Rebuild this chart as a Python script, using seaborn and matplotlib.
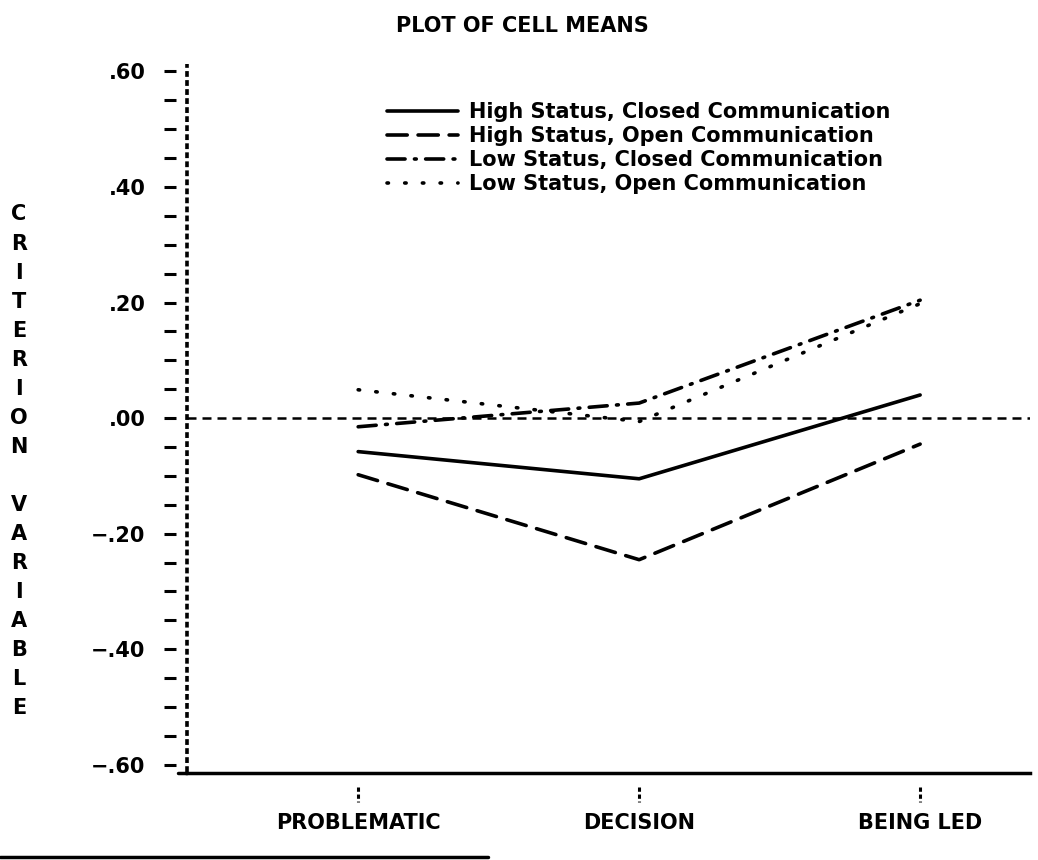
import numpy as np
import pandas as pd
import matplotlib
matplotlib.use("Agg")
import matplotlib.pyplot as plt
import matplotlib.transforms as mtransforms
import seaborn as sns

# ---------------- data ----------------
categories = ["PROBLEMATIC", "DECISION", "BEING LED"]
series_labels = [
    "High Status, Closed Communication",
    "High Status, Open Communication",
    "Low Status, Closed Communication",
    "Low Status, Open Communication",
]
high_closed = [-0.058, -0.105, 0.040]
high_open = [-0.098, -0.245, -0.045]
low_closed = [-0.015, 0.026, 0.204]
low_open = [0.049, -0.006, 0.198]

y_minor_ticks = [-0.60, -0.55, -0.50, -0.45, -0.40, -0.35, -0.30, -0.25, -0.20, -0.15,
                 -0.10, -0.05, 0.00, 0.05, 0.10, 0.15, 0.20, 0.25, 0.30, 0.35, 0.40,
                 0.45, 0.50, 0.55, 0.60]
y_label_ticks = [-0.60, -0.40, -0.20, 0.00, 0.20, 0.40, 0.60]
y_label_texts = ["\u2212.60", "\u2212.40", "\u2212.20", ".00", ".20", ".40", ".60"]
title_text = "PLOT OF CELL MEANS"
y_axis_text = "CRITERION VARIABLE"

# ---------------- style ----------------
sns.set_theme(style="white")
plt.rcParams["font.family"] = ["DejaVu Sans"]
plt.rcParams["font.weight"] = "bold"
for key in ["text.color", "axes.labelcolor", "xtick.color", "ytick.color"]:
    plt.rcParams[key] = "black"
FS = 15

fig = plt.figure(figsize=(10.38, 8.6), dpi=100)
ax = fig.add_axes([0.1802, 0.1012, 0.8121, 0.8273])

positions = list(range(len(categories)))
df = pd.DataFrame({
    "pos": positions * 4,
    "value": high_closed + high_open + low_closed + low_open,
    "series": sum([[s] * len(categories) for s in series_labels], []),
})

dashes = {
    series_labels[0]: "",
    series_labels[1]: (5.6, 3.0),
    series_labels[2]: (5.0, 2.6, 0.5, 2.6),
    series_labels[3]: (0.4, 4.5),
}
sns.lineplot(data=df, x="pos", y="value", style="series", style_order=series_labels,
             dashes=dashes, color="black", linewidth=2.6, legend=False, ax=ax,
             sort=False, estimator=None)
data_lines = list(ax.lines[:4])
for ln in data_lines:
    ln.set_dash_capstyle("round")
    ln.set_solid_capstyle("round")

ax.legend(handles=data_lines, labels=series_labels, loc="upper left",
          bbox_to_anchor=(387 / 1038, 1 - 102 / 860), bbox_transform=fig.transFigure,
          frameon=False, fontsize=FS, handlelength=3.4, handletextpad=0.55,
          labelspacing=0.2, borderpad=0, borderaxespad=0)

# zero reference line
ax.axhline(0, color="black", lw=1.8, ls=(0, (3.6, 2.4)), zorder=1)

# axes limits
ax.set_xlim(-0.609, 2.391)
ax.set_ylim(-0.614, 0.617)
ax.set_xlabel("")
ax.set_ylabel("")

# spines
for s in ["top", "right", "left"]:
    ax.spines[s].set_visible(False)
ax.spines["bottom"].set_linewidth(2.5)
ax.spines["bottom"].set_color("black")

# dotted vertical axis (":" column)
trans_y = mtransforms.blended_transform_factory(ax.transAxes, ax.transData)
ax.plot([0, 0], [y_minor_ticks[0] - 0.012, y_minor_ticks[-1] + 0.012], color="black",
        lw=2.6, ls=(0, (1.6, 0.9)), transform=trans_y, clip_on=False)
# short lead-in of the horizontal axis to the left of the vertical axis
ax.plot([-0.011, 0], [0, 0], color="black", lw=2.5, transform=ax.transAxes,
        clip_on=False)

# y ticks: labels only, dash marks drawn separately
ax.set_yticks(y_label_ticks, labels=y_label_texts)
ax.tick_params(axis="y", length=0, pad=30, labelsize=FS)
ax.plot([-0.020] * len(y_minor_ticks), y_minor_ticks, ls="none", marker="_", ms=9,
        mew=2.2, color="black", transform=trans_y, clip_on=False)

# x ticks
ax.set_xticks(positions, labels=categories)
ax.tick_params(axis="x", length=0, pad=29, labelsize=FS)
trans_x = mtransforms.blended_transform_factory(ax.transData, ax.transAxes)
ax.vlines(positions, -0.020, -0.041, transform=trans_x, colors="black", lw=2.2,
          linestyles=(0, (1.4, 0.9)), clip_on=False)

# title and stacked y label
fig.text(0.503, 1 - 26 / 860, title_text, ha="center", va="center", fontsize=FS,
         fontweight="bold")
trans_lab = mtransforms.blended_transform_factory(fig.transFigure, ax.transData)
ax.text(19 / 1038, -0.075, "\n".join(list(y_axis_text)), transform=trans_lab,
        ha="center", va="center", fontsize=FS, fontweight="bold", linespacing=1.566)

# bottom separator rule (page artefact)
fig.add_artist(plt.Line2D([0.0, 0.47], [1 - 857 / 860, 1 - 857 / 860],
                          color="black", lw=2.5, transform=fig.transFigure))

fig.savefig("out.png", dpi=100, facecolor="white")
